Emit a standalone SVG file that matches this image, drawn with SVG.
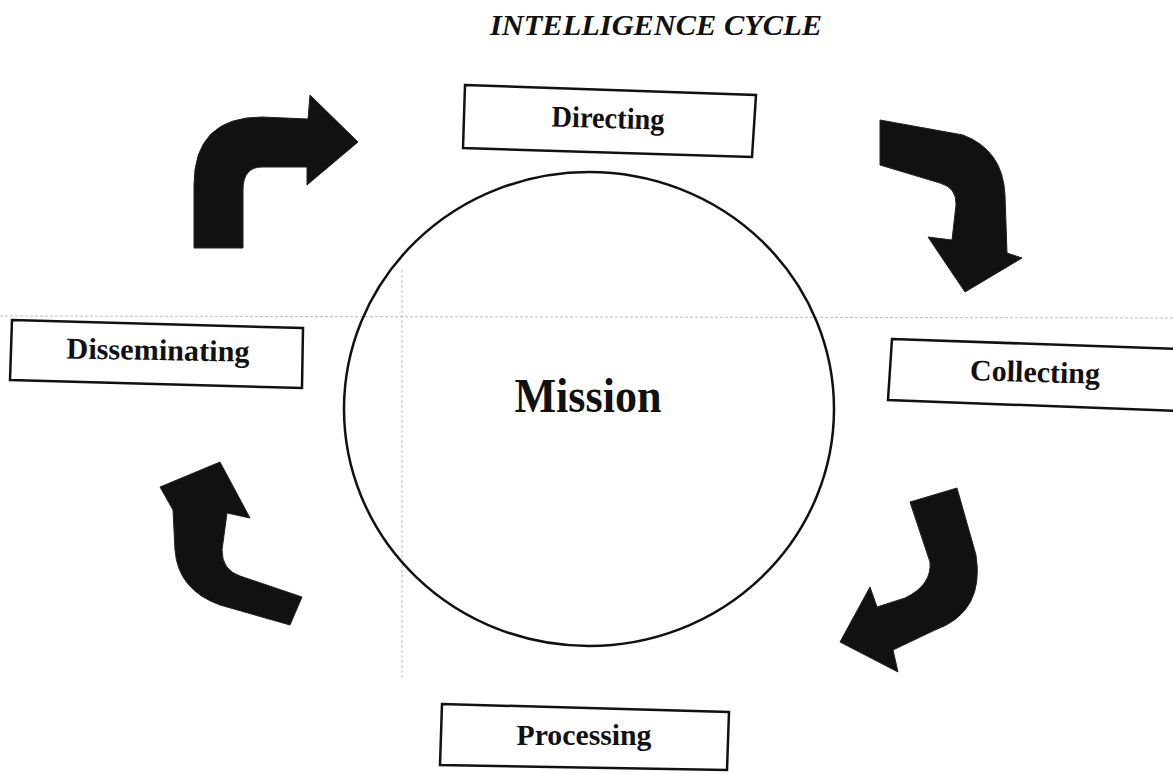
<svg xmlns="http://www.w3.org/2000/svg" width="1173" height="774" viewBox="0 0 1173 774">
<style>
.lbl{font-family:"Liberation Serif","Times New Roman",serif;font-weight:bold;font-size:30px;fill:#111;text-anchor:middle}
.big{font-size:49px}
.box{fill:#fff;stroke:#111;stroke-width:2.5}
.arr{fill:#111;stroke:#222;stroke-width:1}
.scan{stroke:#bdbdbd;stroke-width:1;stroke-dasharray:3 2;fill:none}
</style>
<rect width="1173" height="774" fill="#fff"/>
<g id="scan-artifacts">
<line class="scan" x1="0" y1="316" x2="1173" y2="318"/>
<line class="scan" x1="402" y1="270" x2="402" y2="680"/>
</g>
<text x="656" y="35" font-family="Liberation Serif,'Times New Roman',serif" font-weight="bold" font-style="italic" font-size="30" fill="#111" text-anchor="middle" textLength="332" lengthAdjust="spacingAndGlyphs">INTELLIGENCE CYCLE</text>
<g id="mission">
<ellipse cx="589" cy="409" rx="245" ry="237" fill="none" stroke="#111" stroke-width="2.5"/>
<text class="lbl big" x="588" y="412" textLength="147" lengthAdjust="spacingAndGlyphs">Mission</text>
</g>
<g id="directing">
<polygon class="box" points="465,85 756,95 752,157 463,148"/>
<text class="lbl" x="608" y="128" textLength="113" lengthAdjust="spacingAndGlyphs" transform="rotate(1.5 608 120)">Directing</text>
</g>
<g id="collecting">
<polygon class="box" points="892,339 1180,349 1180,411 888,400"/>
<text class="lbl" x="1035" y="382" textLength="130" lengthAdjust="spacingAndGlyphs" transform="rotate(1.5 1035 375)">Collecting</text>
</g>
<g id="processing">
<polygon class="box" points="442,704 729,712 727,770 440,765"/>
<text class="lbl" x="584" y="745" textLength="135" lengthAdjust="spacingAndGlyphs">Processing</text>
</g>
<g id="disseminating">
<polygon class="box" points="12,320 303,328 302,388 10,380"/>
<text class="lbl" x="158" y="360" textLength="183" lengthAdjust="spacingAndGlyphs" transform="rotate(1 158 352)">Disseminating</text>
</g>
<g id="connectors">
<path class="arr" d="M194,248 L194,185 Q194,117 262,117 L308,119 L310,95 L358,142 L307,185 L307,167 L262,167 Q243,167 243,190 L243,248 Z"/>
<path class="arr" d="M880,120 L963,135 Q1003,150 1005,195 L1007,253 L1022,258 L965,292 L928,237 L952,240 L956,205 Q957,188 940,183 L880,165 Z"/>
<path class="arr" d="M910,502 L957,488 L976,555 Q985,612 935,630 L893,650 L898,672 L840,642 L870,587 L877,607 L905,598 Q932,585 930,562 Z"/>
<path class="arr" d="M173,510 L160,487 L220,462 L250,518 L227,513 L222,550 Q222,570 240,576 L302,597 L290,625 L220,605 Q178,590 175,550 Z"/>
</g>
</svg>
